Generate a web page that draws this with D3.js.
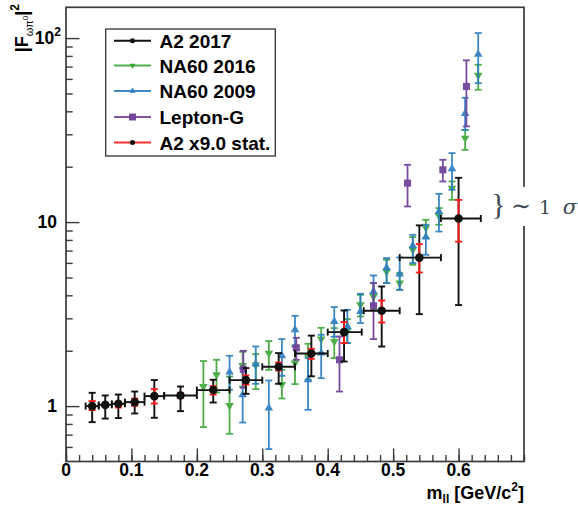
<!DOCTYPE html>
<html>
<head>
<meta charset="utf-8">
<script src="https://cdn.jsdelivr.net/npm/d3@7"></script>
<style>
  body { margin: 0; background: #fff; }
  svg text { font-family: 'Liberation Sans', Arial, Helvetica, sans-serif; }
</style>
</head>
<body>
<svg id="chart" width="578" height="505"></svg>
<script>
// ---- A2 2017 (bin centres, bin edges, |F|^2 with total and x9 stat. bands) ----
const a2Mass   = [0.04, 0.06, 0.08, 0.105, 0.135, 0.175, 0.225, 0.275, 0.325, 0.375, 0.425, 0.4825, 0.54, 0.60];
const a2MassLo = [0.03, 0.05, 0.07, 0.09, 0.12, 0.15, 0.20, 0.25, 0.30, 0.35, 0.40, 0.455, 0.51, 0.573];
const a2MassHi = [0.05, 0.07, 0.09, 0.12, 0.15, 0.20, 0.25, 0.30, 0.35, 0.40, 0.452, 0.51, 0.573, 0.634];
const a2FF     = [1.00, 1.016, 1.029, 1.051, 1.133, 1.142, 1.222, 1.384, 1.635, 1.931, 2.525, 3.298, 6.41, 10.46];
const a2TotHi  = [1.181, 1.142, 1.156, 1.20, 1.385, 1.278, 1.39, 1.609, 1.941, 2.416, 3.309, 4.467, 9.6, 17.4];
const a2TotLo  = [0.818, 0.856, 0.861, 0.912, 0.864, 0.939, 1.046, 1.166, 1.322, 1.452, 1.747, 2.107, 3.16, 3.54];
const a2StatHi = [1.065, 1.042, 1.055, 1.10, 1.237, 1.181, 1.284, 1.467, 1.726, 2.049, 2.862, 3.75, 7.59, 13.2];
const a2StatLo = [0.951, 0.988, 0.983, 1.004, 1.033, 1.109, 1.156, 1.31, 1.561, 1.807, 2.2, 2.846, 5.32, 7.83];

// ---- NA60 2016 ----
const na16Mass = [0.21, 0.23, 0.25, 0.27, 0.29, 0.31, 0.33, 0.35, 0.37, 0.39, 0.41, 0.43, 0.45, 0.47, 0.49, 0.51, 0.53, 0.55, 0.57, 0.59, 0.61, 0.63];
const na16FF   = [1.278, 1.479, 1.008, 1.662, 1.671, 1.941, 1.31, 1.713, 1.853, 2.313, 2.244, 2.566, 3.552, 3.942, 5.39, 4.661, 7.07, 9.31, 10.82, 15.3, 28.6, 62.8];
const na16Hi   = [1.757, 1.785, 1.448, 1.973, 1.917, 2.256, 1.575, 2.135, 2.181, 2.665, 2.654, 2.971, 4.027, 4.661, 6.24, 5.283, 8.29, 10.29, 11.92, 16.63, 31.7, 71.6];
const na16Lo   = [0.769, 1.186, 0.707, 1.278, 1.237, 1.575, 1.1, 1.317, 1.39, 1.941, 1.823, 2.2, 3.069, 3.337, 4.661, 4.287, 5.86, 8.19, 9.67, 13.22, 24.7, 52.4];

// ---- NA60 2009 ----
const na09Mass = [0.25, 0.27, 0.29, 0.31, 0.33, 0.35, 0.37, 0.39, 0.41, 0.43, 0.45, 0.47, 0.49, 0.51, 0.53, 0.55, 0.57, 0.59, 0.61, 0.63];
const na09FF   = [1.53, 1.152, 1.691, 0.975, 1.877, 2.598, 1.39, 1.941, 2.884, 2.708, 3.267, 4.196, 5.645, 5.218, 7.43, 8.29, 11.42, 19.49, 38.9, 81.6];
const na09Hi   = [1.877, 1.609, 2.109, 1.378, 2.313, 3.096, 1.83, 2.441, 3.452, 3.337, 4.077, 5.127, 6.374, 6.422, 8.53, 9.67, 14.25, 23.71, 47.4, 106.5];
const na09Lo   = [1.226, 0.814, 1.322, 0.584, 1.461, 2.109, 0.955, 1.419, 2.381, 2.2, 2.826, 3.552, 4.661, 4.287, 5.99, 6.64, 8.89, 14.98, 31.7, 56.9];

// ---- Lepton-G ----
const lgMass = [0.271, 0.352, 0.418, 0.470, 0.522, 0.576, 0.612];
const lgFF   = [1.585, 2.074, 1.785, 3.509, 16.29, 19.24, 54.6];
const lgHi   = [1.998, 2.35, 2.389, 4.661, 20.48, 21.81, 75.7];
const lgLo   = [1.257, 1.785, 1.2, 2.313, 12.16, 16.63, 33.1];

// ---- axes ----
const xMajorTicks = [0, 0.1, 0.2, 0.3, 0.4, 0.5, 0.6];
const xTickLabels = ["0", "0.1", "0.2", "0.3", "0.4", "0.5", "0.6"];
const yMajorTicks = [1, 10, 100];
const yTickLabels = [["1", ""], ["10", ""], ["10", "2"]];
const legendLabels = ["A2 2017", "NA60 2016", "NA60 2009", "Lepton-G", "A2 x9.0 stat."];

const C = { black: "#111111", green: "#3fa83b", blue: "#2c7dc0", purple: "#71439b", red: "#ff1a1a", frame: "#3a3a3a" };

const svg = d3.select("#chart");
const L = 66, R = 524, T = 7.3, B = 461.5;
const x = d3.scaleLinear().domain([0, 0.7]).range([L, R]);
const y = d3.scaleLog().domain([0.5, 147]).range([B, T]);

svg.append("rect").attr("width", 578).attr("height", 505).attr("fill", "#fff");

const plot = svg.append("g");
const CAP = 3.5;

function vBars(g, xs, lo, hi, color, width) {
  xs.forEach((m, i) => {
    const px = x(m), y1 = y(hi[i]), y2 = y(lo[i]);
    g.append("line").attr("x1", px).attr("x2", px).attr("y1", y1).attr("y2", y2)
      .attr("stroke", color).attr("stroke-width", width);
    [y1, y2].forEach(yy => g.append("line")
      .attr("x1", px - CAP).attr("x2", px + CAP).attr("y1", yy).attr("y2", yy)
      .attr("stroke", color).attr("stroke-width", width));
  });
}
function hBars(g, ys, lo, hi, color, width) {
  ys.forEach((v, i) => {
    const py = y(v), x1 = x(lo[i]), x2 = x(hi[i]);
    g.append("line").attr("x1", x1).attr("x2", x2).attr("y1", py).attr("y2", py)
      .attr("stroke", color).attr("stroke-width", width);
    [x1, x2].forEach(xx => g.append("line")
      .attr("x1", xx).attr("x2", xx).attr("y1", py - CAP).attr("y2", py + CAP)
      .attr("stroke", color).attr("stroke-width", width));
  });
}
function markers(g, xs, vals, type, size, color, rot) {
  const sym = d3.symbol().type(type).size(size);
  xs.forEach((m, i) => {
    g.append("path").attr("d", sym())
      .attr("transform", `translate(${x(m)},${y(vals[i])}) rotate(${rot || 0})`)
      .attr("fill", color);
  });
}

// NA60 2016 (down triangles)
const gG = plot.append("g").attr("opacity", 0.92);
vBars(gG, na16Mass, na16Lo, na16Hi, C.green, 1.8);
markers(gG, na16Mass, na16FF, d3.symbolTriangle, 32, C.green, 180);
// NA60 2009 (up triangles)
const gB = plot.append("g").attr("opacity", 0.92);
vBars(gB, na09Mass, na09Lo, na09Hi, C.blue, 1.8);
markers(gB, na09Mass, na09FF, d3.symbolTriangle, 32, C.blue, 0);
// Lepton-G (squares)
const gP = plot.append("g").attr("opacity", 0.95);
vBars(gP, lgMass, lgLo, lgHi, C.purple, 1.8);
markers(gP, lgMass, lgFF, d3.symbolSquare, 50, C.purple, 0);
// A2 2017 total errors, then x9 statistical band, then points
const gA = plot.append("g");
vBars(gA, a2Mass, a2TotLo, a2TotHi, C.black, 1.9);
hBars(gA, a2FF, a2MassLo, a2MassHi, C.black, 1.9);
vBars(gA, a2Mass, a2StatLo, a2StatHi, C.red, 1.9);
markers(gA, a2Mass, a2FF, d3.symbolCircle, 58, C.black, 0);

// ---- legend ----
const lg = svg.append("g");
lg.append("rect").attr("x", 105.7).attr("y", 29).attr("width", 169.6).attr("height", 127)
  .attr("fill", "#fff").attr("stroke", "#333").attr("stroke-width", 1.3);
const legColors = [C.black, C.green, C.blue, C.purple, C.red];
const legRowY = [40.7, 65.5, 91, 117, 142.5];
legendLabels.forEach((lab, i) => {
  const yy = legRowY[i];
  lg.append("line").attr("x1", 114).attr("x2", 151).attr("y1", yy).attr("y2", yy)
    .attr("stroke", legColors[i]).attr("stroke-width", 2).attr("opacity", i === 0 ? 1 : 0.9);
  let sym, fill = legColors[i], rot = 0;
  if (i === 0 || i === 4) { sym = d3.symbol().type(d3.symbolCircle).size(20); fill = C.black; }
  else if (i === 1) { sym = d3.symbol().type(d3.symbolTriangle).size(16); rot = 180; }
  else if (i === 2) { sym = d3.symbol().type(d3.symbolTriangle).size(16); }
  else { sym = d3.symbol().type(d3.symbolSquare).size(48); }
  lg.append("path").attr("d", sym()).attr("fill", fill)
    .attr("transform", `translate(132.5,${yy}) rotate(${rot})`);
  lg.append("text").attr("x", 159.5).attr("y", yy + 7).attr("font-size", 19)
    .attr("font-weight", "bold").attr("fill", "#000").text(lab);
});

// ---- frame and axes ----
const axG = svg.append("g");
axG.append("g").attr("transform", `translate(0,${B})`)
  .call(d3.axisBottom(x).tickValues(d3.range(0, 36).map(k => k * 0.02)).tickSize(-6.5).tickFormat(""));
axG.append("g").attr("transform", `translate(0,${B})`)
  .call(d3.axisBottom(x).tickValues(xMajorTicks).tickSize(-13).tickFormat(""));
const yMinor = [0.6, 0.7, 0.8, 0.9, 2, 3, 4, 5, 6, 7, 8, 9, 20, 30, 40, 50, 60, 70, 80, 90];
axG.append("g").attr("transform", `translate(${L},0)`)
  .call(d3.axisLeft(y).tickValues(yMinor).tickSize(-6.7).tickFormat(""));
axG.append("g").attr("transform", `translate(${L},0)`)
  .call(d3.axisLeft(y).tickValues(yMajorTicks).tickSize(-13.5).tickFormat(""));
axG.selectAll(".domain").remove();
axG.selectAll(".tick line").attr("stroke", C.frame).attr("stroke-width", 1.4);

// x tick labels
xMajorTicks.forEach((v, i) => {
  svg.append("text").attr("x", x(v)).attr("y", 476).attr("text-anchor", "middle")
    .attr("font-size", 17.5).attr("font-weight", "bold").attr("fill", "#000").text(xTickLabels[i]);
});
// y tick labels
yMajorTicks.forEach((v, i) => {
  const t = svg.append("text").attr("y", y(v) + 6).attr("font-size", 17.5).attr("font-weight", "bold")
    .attr("fill", "#000").attr("text-anchor", "end");
  t.append("tspan").text(yTickLabels[i][0]);
  if (yTickLabels[i][1]) {
    t.attr("x", 61);
    t.append("tspan").attr("font-size", 12).attr("dy", -8).text(yTickLabels[i][1]);
  } else {
    t.attr("x", 57);
  }
});

// frame
svg.append("rect").attr("x", L).attr("y", T).attr("width", R - L).attr("height", B - T)
  .attr("fill", "none").attr("stroke", C.frame).attr("stroke-width", 1.7);

// axis titles
const xt = svg.append("text").attr("x", R).attr("y", 499).attr("text-anchor", "end")
  .attr("font-size", 18).attr("font-weight", "bold").attr("fill", "#000");
xt.append("tspan").text("m");
xt.append("tspan").attr("font-size", 12).attr("dy", 4).text("ll");
xt.append("tspan").attr("dy", -4).text(" [GeV/c");
xt.append("tspan").attr("font-size", 12).attr("dy", -8).text("2");
xt.append("tspan").attr("dy", 8).text("]");

const yt = svg.append("text").attr("transform", "translate(28,4) rotate(-90)")
  .attr("text-anchor", "end").attr("font-size", 18).attr("font-weight", "bold").attr("fill", "#000");
yt.append("tspan").text("|F");
yt.append("tspan").attr("font-size", 11).attr("font-weight", "normal").attr("dy", 5).text("ωπ");
yt.append("tspan").attr("font-size", 8).attr("font-weight", "normal").attr("dy", -5).text("0");
yt.append("tspan").attr("font-size", 18).attr("dy", 0).text("|");
yt.append("tspan").attr("font-size", 12).attr("dy", -9).text("2");

// ~1 sigma annotation, drawn over the right frame edge
const ann = svg.append("g");
ann.append("rect").attr("x", 506).attr("y", 187).attr("width", 40).attr("height", 39).attr("fill", "#fff");
const annColor = "#3b4a56";
const serif = "'DejaVu Serif', 'Liberation Serif', serif";
ann.append("text").attr("x", 498.5).attr("y", 214).attr("text-anchor", "middle")
  .attr("font-size", 30).style("font-weight", "normal").style("font-family", "'Liberation Serif', serif")
  .attr("fill", annColor).text("}");
ann.append("text").attr("x", 521).attr("y", 214).attr("text-anchor", "middle")
  .attr("font-size", 24).style("font-weight", "normal").style("font-family", serif)
  .attr("fill", annColor).text("∼");
ann.append("text").attr("x", 545).attr("y", 214).attr("text-anchor", "middle")
  .attr("font-size", 19).style("font-weight", "normal").style("font-family", serif)
  .attr("fill", annColor).text("1");
ann.append("text").attr("x", 570).attr("y", 214).attr("text-anchor", "middle")
  .attr("font-size", 21).style("font-weight", "normal").style("font-style", "italic")
  .style("font-family", serif).attr("fill", annColor).text("σ");
</script>
</body>
</html>
